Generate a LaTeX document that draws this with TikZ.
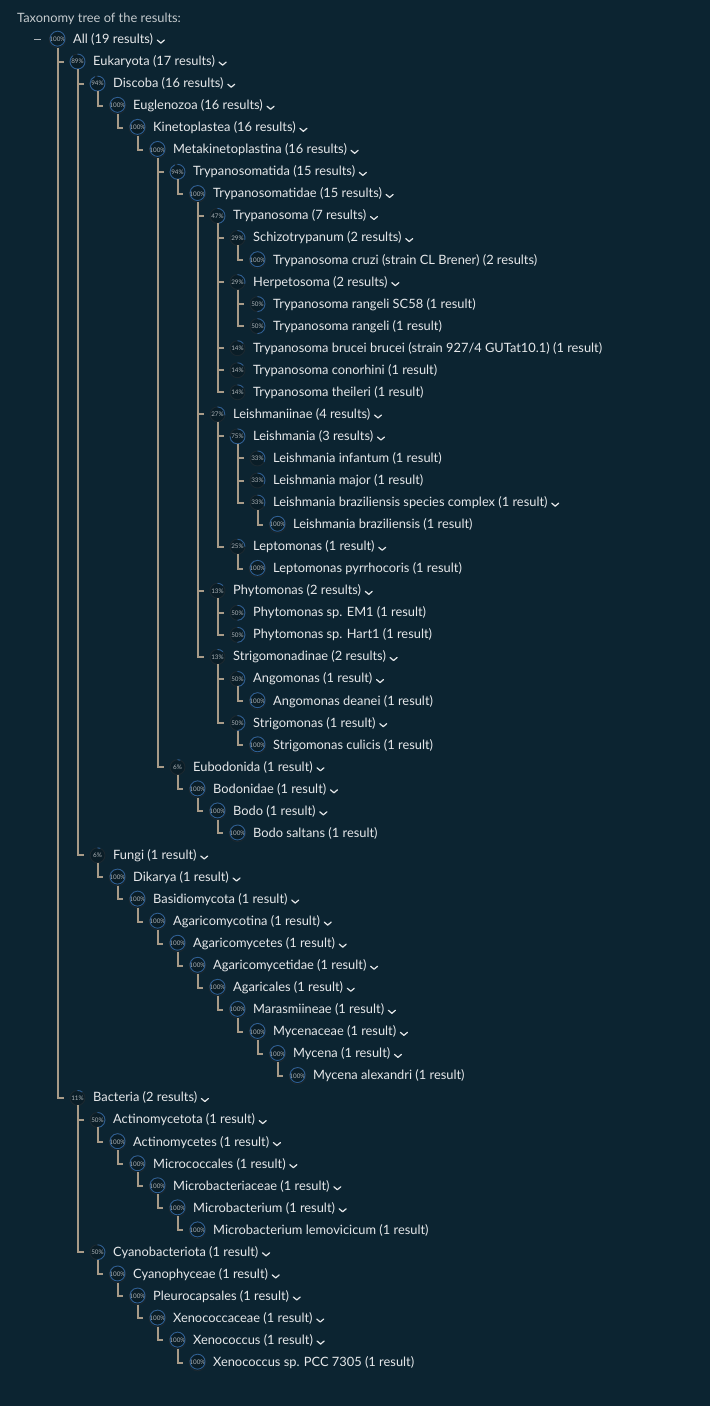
\documentclass[tikz,border=0pt]{standalone}
\usepackage{fontspec}
\setmainfont{Lato}
\usepackage{xcolor}
\usetikzlibrary{positioning}
\definecolor{bgnavy}{HTML}{0C2431}
\definecolor{labelwhite}{HTML}{E6E8EA}
\definecolor{branchtan}{HTML}{A89B88}
\definecolor{pctgray}{HTML}{AEB4B8}
\definecolor{ringgray}{HTML}{1B2830}
\definecolor{ringfill}{HTML}{0A1D27}
\definecolor{ringblue}{HTML}{2D5F94}
\tikzstyle{pctring}  = [circle, minimum size=15pt, inner sep=0pt, outer sep=0pt, draw=ringgray,
                        line width=0.9pt, fill=ringfill, text=pctgray, font=\fontsize{6.3}{6.5}\selectfont]
\tikzstyle{ringarc}  = [draw=ringblue, line width=0.9pt]
\tikzstyle{taxon}    = [anchor=base west, inner sep=0pt, text=labelwhite, font=\fontsize{12.85}{15}\selectfont]
\tikzstyle{branch}   = [draw=branchtan, line width=2pt]
\tikzstyle{rootdash} = [draw=pctgray, line width=1pt]
\tikzstyle{chevron}  = [draw=labelwhite, line width=1.2pt, line cap=round, line join=round]

\begin{document}
\begin{tikzpicture}[x=1pt, y=-1pt]
    \fill[bgnavy] (0,0) rectangle (710,1406);
    \node[taxon, text=labelwhite!85!bgnavy] (title) at (17,22.5) {Taxonomy tree of the results:};

    \foreach \i/\d/\p/\pa/\ch/\txt in {
        1/0/100/0/1/{All (19 results)},
        2/1/89/1/1/{Eukaryota (17 results)},
        3/2/94/2/1/{Discoba (16 results)},
        4/3/100/3/1/{Euglenozoa (16 results)},
        5/4/100/4/1/{Kinetoplastea (16 results)},
        6/5/100/5/1/{Metakinetoplastina (16 results)},
        7/6/94/6/1/{Trypanosomatida (15 results)},
        8/7/100/7/1/{Trypanosomatidae (15 results)},
        9/8/47/8/1/{Trypanosoma (7 results)},
        10/9/29/9/1/{Schizotrypanum (2 results)},
        11/10/100/10/0/{Trypanosoma cruzi (strain CL Brener) (2 results)},
        12/9/29/9/1/{Herpetosoma (2 results)},
        13/10/50/12/0/{Trypanosoma rangeli SC58 (1 result)},
        14/10/50/12/0/{Trypanosoma rangeli (1 result)},
        15/9/14/9/0/{Trypanosoma brucei brucei (strain 927/4 GUTat10.1) (1 result)},
        16/9/14/9/0/{Trypanosoma conorhini (1 result)},
        17/9/14/9/0/{Trypanosoma theileri (1 result)},
        18/8/27/8/1/{Leishmaniinae (4 results)},
        19/9/75/18/1/{Leishmania (3 results)},
        20/10/33/19/0/{Leishmania infantum (1 result)},
        21/10/33/19/0/{Leishmania major (1 result)},
        22/10/33/19/1/{Leishmania braziliensis species complex (1 result)},
        23/11/100/22/0/{Leishmania braziliensis (1 result)},
        24/9/25/18/1/{Leptomonas (1 result)},
        25/10/100/24/0/{Leptomonas pyrrhocoris (1 result)},
        26/8/13/8/1/{Phytomonas (2 results)},
        27/9/50/26/0/{Phytomonas sp. EM1 (1 result)},
        28/9/50/26/0/{Phytomonas sp. Hart1 (1 result)},
        29/8/13/8/1/{Strigomonadinae (2 results)},
        30/9/50/29/1/{Angomonas (1 result)},
        31/10/100/30/0/{Angomonas deanei (1 result)},
        32/9/50/29/1/{Strigomonas (1 result)},
        33/10/100/32/0/{Strigomonas culicis (1 result)},
        34/6/6/6/1/{Eubodonida (1 result)},
        35/7/100/34/1/{Bodonidae (1 result)},
        36/8/100/35/1/{Bodo (1 result)},
        37/9/100/36/0/{Bodo saltans (1 result)},
        38/2/6/2/1/{Fungi (1 result)},
        39/3/100/38/1/{Dikarya (1 result)},
        40/4/100/39/1/{Basidiomycota (1 result)},
        41/5/100/40/1/{Agaricomycotina (1 result)},
        42/6/100/41/1/{Agaricomycetes (1 result)},
        43/7/100/42/1/{Agaricomycetidae (1 result)},
        44/8/100/43/1/{Agaricales (1 result)},
        45/9/100/44/1/{Marasmiineae (1 result)},
        46/10/100/45/1/{Mycenaceae (1 result)},
        47/11/100/46/1/{Mycena (1 result)},
        48/12/100/47/0/{Mycena alexandri (1 result)},
        49/1/11/1/1/{Bacteria (2 results)},
        50/2/50/49/1/{Actinomycetota (1 result)},
        51/3/100/50/1/{Actinomycetes (1 result)},
        52/4/100/51/1/{Micrococcales (1 result)},
        53/5/100/52/1/{Microbacteriaceae (1 result)},
        54/6/100/53/1/{Microbacterium (1 result)},
        55/7/100/54/0/{Microbacterium lemovicicum (1 result)},
        56/2/50/49/1/{Cyanobacteriota (1 result)},
        57/3/100/56/1/{Cyanophyceae (1 result)},
        58/4/100/57/1/{Pleurocapsales (1 result)},
        59/5/100/58/1/{Xenococcaceae (1 result)},
        60/6/100/59/1/{Xenococcus (1 result)},
        61/7/100/60/0/{Xenococcus sp. PCC 7305 (1 result)}}{
        \pgfmathsetmacro{\yy}{39.5+22.05*(\i-1)}
        \node[pctring] (c\i) at ({57.5+20*\d},\yy) {\p\%};
        \draw[ringarc] (c\i.north) arc[start angle=90, delta angle={-3.6*\p}, radius=7.5pt];
        \node[taxon] (t\i) at ({73+20*\d},{\yy+4}) {\txt};
        \ifnum\ch=1
            \draw[chevron] ([xshift=4pt,yshift=3.4pt]t\i.base east) -- ++(3.5,3) -- ++(3.5,-3);
        \fi
        \ifnum\pa>0
            \draw[branch] (c\pa.south) |- ([xshift=-6pt]c\i.west);
        \fi
    }
    \draw[rootdash] ([xshift=-15pt]c1.west) -- ([xshift=-8pt]c1.west);
\end{tikzpicture}
\end{document}
